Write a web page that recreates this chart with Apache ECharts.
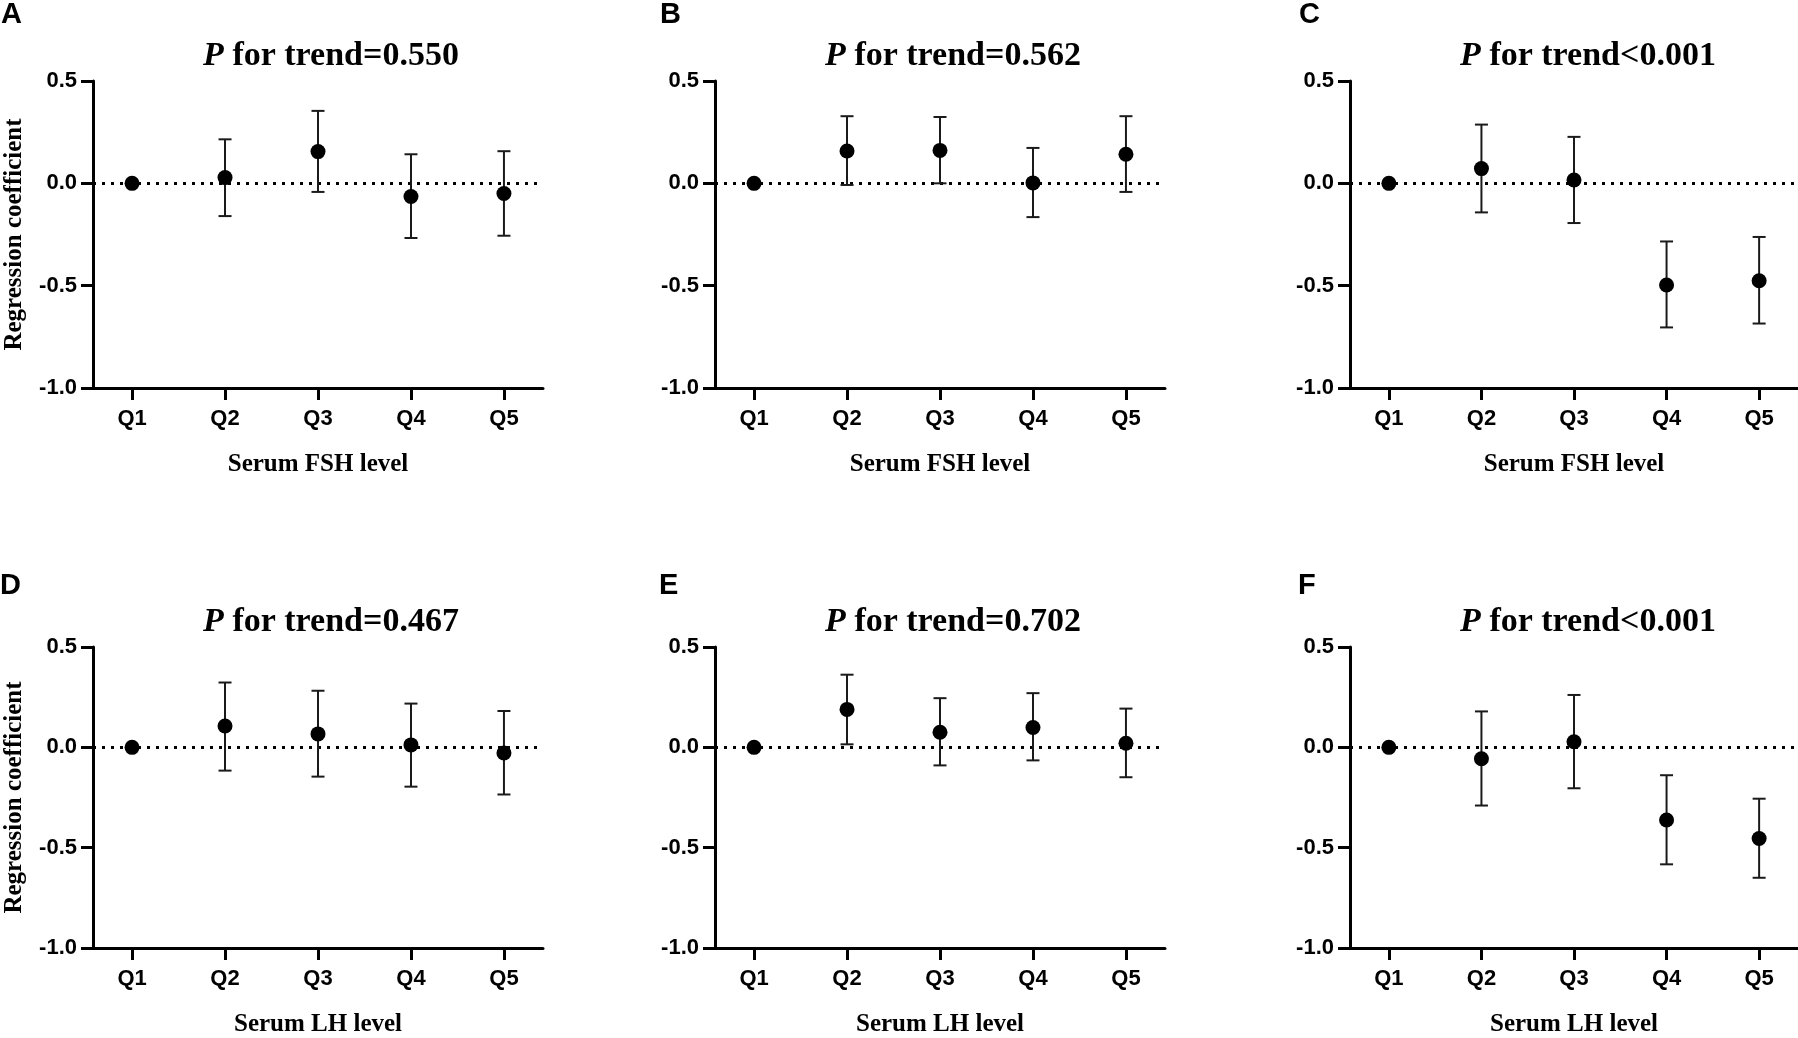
<!DOCTYPE html>
<html>
<head>
<meta charset="utf-8">
<script src="https://cdn.jsdelivr.net/npm/echarts@6/dist/echarts.min.js"></script>
<style>
html,body{margin:0;padding:0;background:#fff;}
#chart{width:1798px;height:1038px;}
</style>
</head>
<body>
<div id="chart"></div>
<script>
// ---- data ----
const categories = ['Q1', 'Q2', 'Q3', 'Q4', 'Q5'];
const yTicks = [-1.0, -0.5, 0.0, 0.5];

const panelLetters = ['A', 'B', 'C', 'D', 'E', 'F'];
const trendTexts = ['=0.550', '=0.562', '<0.001', '=0.467', '=0.702', '<0.001'];
const xAxisNames = ['Serum FSH level', 'Serum FSH level', 'Serum FSH level',
                    'Serum LH level', 'Serum LH level', 'Serum LH level'];

// coefficient, lower CI, upper CI (Q1 = reference, no CI)
const coefA = [0, 0.028, 0.155, -0.064, -0.050];
const lowA  = [null, -0.160, -0.042, -0.267, -0.256];
const highA = [null, 0.215, 0.354, 0.142, 0.157];

const coefB = [0, 0.158, 0.161, 0.002, 0.142];
const lowB  = [null, -0.008, 0.000, -0.165, -0.042];
const highB = [null, 0.328, 0.324, 0.173, 0.328];

const coefC = [0, 0.072, 0.016, -0.497, -0.476];
const lowC  = [null, -0.142, -0.194, -0.704, -0.685];
const highC = [null, 0.287, 0.227, -0.284, -0.262];

const coefD = [0, 0.106, 0.067, 0.012, -0.028];
const lowD  = [null, -0.116, -0.146, -0.196, -0.235];
const highD = [null, 0.323, 0.282, 0.218, 0.181];

const coefE = [0, 0.189, 0.075, 0.099, 0.020];
const lowE  = [null, 0.015, -0.090, -0.065, -0.149];
const highE = [null, 0.362, 0.245, 0.270, 0.193];

const coefF = [0, -0.057, 0.028, -0.362, -0.454];
const lowF  = [null, -0.290, -0.204, -0.583, -0.650];
const highF = [null, 0.179, 0.261, -0.139, -0.256];

const coefs = [coefA, coefB, coefC, coefD, coefE, coefF];
const lows = [lowA, lowB, lowC, lowD, lowE, lowF];
const highs = [highA, highB, highC, highD, highE, highF];

// ---- layout ----
const gridLefts = [93, 715, 1350, 93, 715, 1350];
const gridTops = [81, 81, 81, 647, 647, 647];
const gridW = 450, gridH = 307;
const letterX = [1, 660, 1299, 0, 659, 1298];
const letterY = [15, 15, 15, 586, 586, 586];

const SANS = '"Liberation Sans", Arial, sans-serif';
const SERIF = '"Liberation Serif", "Times New Roman", serif';

const chart = echarts.init(document.getElementById('chart'));

const grids = [], xAxes = [], yAxes = [], series = [], graphics = [];

for (let p = 0; p < 6; p++) {
  grids.push({left: gridLefts[p], top: gridTops[p], width: gridW, height: gridH, containLabel: false});
  xAxes.push({
    type: 'value', gridIndex: p, min: 0.58, max: 5.42,
    name: xAxisNames[p], nameLocation: 'middle', nameGap: 64,
    nameTextStyle: {fontFamily: SERIF, fontWeight: 'bold', fontSize: 25, color: '#000'},
    axisLine: {show: true, onZero: false, lineStyle: {color: '#000', width: 3}},
    axisTick: {show: true, length: 12, lineStyle: {color: '#000', width: 3}, customValues: [1, 2, 3, 4, 5]},
    axisLabel: {
      customValues: [1, 2, 3, 4, 5], margin: 20,
      fontFamily: SANS, fontWeight: 'bold', fontSize: 22, color: '#000',
      formatter: v => categories[Math.round(v) - 1]
    },
    splitLine: {show: false}
  });
  yAxes.push({
    type: 'value', gridIndex: p, min: yTicks[0], max: yTicks[yTicks.length - 1], interval: 0.5,
    name: (p % 3 === 0) ? 'Regression coefficient' : '',
    nameLocation: 'middle', nameGap: 66,
    nameTextStyle: {fontFamily: SERIF, fontWeight: 'bold', fontSize: 25, color: '#000'},
    axisLine: {show: true, lineStyle: {color: '#000', width: 3}},
    axisTick: {show: true, length: 12, lineStyle: {color: '#000', width: 3}},
    axisLabel: {
      margin: 16, fontFamily: SANS, fontWeight: 'bold', fontSize: 22, color: '#000',
      formatter: v => v.toFixed(1)
    },
    splitLine: {show: false}
  });

  const pts = coefs[p].map((c, i) => [i + 1, c]);
  const bars = [];
  lows[p].forEach((lo, i) => {
    if (lo !== null) bars.push([i + 1, lo, highs[p][i]]);
  });

  series.push({
    type: 'custom', xAxisIndex: p, yAxisIndex: p, z: 3,
    data: bars,
    renderItem: function (params, api) {
      const x = api.value(0);
      const lo = api.coord([x, api.value(1)]);
      const hi = api.coord([x, api.value(2)]);
      const hw = 6.5;
      const st = {stroke: '#1a1a1a', lineWidth: 2};
      return {
        type: 'group',
        children: [
          {type: 'line', shape: {x1: lo[0], y1: lo[1], x2: hi[0], y2: hi[1]}, style: st},
          {type: 'line', shape: {x1: hi[0] - hw, y1: hi[1], x2: hi[0] + hw, y2: hi[1]}, style: st},
          {type: 'line', shape: {x1: lo[0] - hw, y1: lo[1], x2: lo[0] + hw, y2: lo[1]}, style: st}
        ]
      };
    },
    silent: true
  });

  series.push({
    type: 'scatter', xAxisIndex: p, yAxisIndex: p, z: 4,
    data: pts, symbol: 'circle', symbolSize: 15,
    itemStyle: {color: '#000', opacity: 1},
    silent: true,
    markLine: {
      silent: true, symbol: ['none', 'none'], label: {show: false},
      lineStyle: {color: '#000', width: 3, type: [3, 6], opacity: 1},
      data: [{yAxis: 0}],
      z: 1
    }
  });

  graphics.push({
    type: 'text', x: letterX[p], y: letterY[p],
    style: {text: panelLetters[p], font: 'bold 29px "Liberation Sans", Arial, sans-serif',
            fill: '#000', align: 'left', verticalAlign: 'middle'}
  });
  graphics.push({
    type: 'text', x: gridLefts[p] + 238, y: gridTops[p] - 25,
    style: {
      text: '{i|P}{n| for trend' + trendTexts[p] + '}',
      align: 'center', verticalAlign: 'middle', fill: '#000',
      rich: {
        i: {fontFamily: SERIF, fontWeight: 'bold', fontStyle: 'italic', fontSize: 34, fill: '#000'},
        n: {fontFamily: SERIF, fontWeight: 'bold', fontSize: 34, fill: '#000'}
      }
    }
  });
}

chart.setOption({
  animation: false,
  backgroundColor: '#fff',
  grid: grids,
  xAxis: xAxes,
  yAxis: yAxes,
  series: series,
  graphic: graphics
});
</script>
</body>
</html>
